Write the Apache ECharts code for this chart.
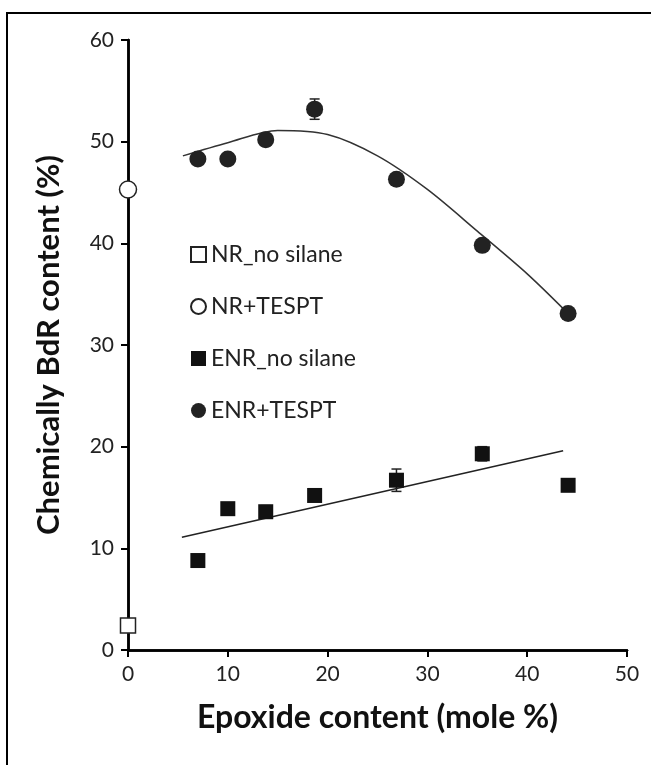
<!DOCTYPE html>
<html>
<head>
<meta charset="utf-8">
<script src="https://cdn.jsdelivr.net/npm/echarts@6/dist/echarts.min.js"></script>
<style>
html, body { margin: 0; padding: 0; background: #fff; }
#chart { width: 651px; height: 765px; }
</style>
</head>
<body>
<div id="chart"></div>
<script>
// epoxide content (mole %) of the ENR samples
var epoxide = [7.0, 10.0, 13.8, 18.7, 26.9, 35.5, 44.1];
// ENR + TESPT, with error (+/-)
var enrTespt = [48.3, 48.3, 50.2, 53.2, 46.3, 39.8, 33.1];
var enrTesptErr = [0.3, 0.3, 0.6, 1.0, 0.4, 0.4, 0.3];
// ENR no silane
var enrNoSilane = [8.8, 13.9, 13.6, 15.2, 16.7, 19.3, 16.2];
var enrNoSilaneErr = [0.3, 0.3, 0.6, 0.3, 1.1, 0.7, 0.4];
// NR references at 0 mole %
var nrTespt = [[0, 45.3]];
var nrNoSilane = [[0, 2.4]];
// trend lines
var polyX = [5.5, 10, 15, 20, 25, 30, 35, 40, 44.1];
var polyY = [48.6, 49.9, 51.1, 50.7, 48.6, 45.3, 41.2, 37.0, 33.1];
var linX = [5.4, 43.6];
var linY = [11.1, 19.6];

var fontFam = 'Lato, "Open Sans", sans-serif';

function pairs(xs, ys) {
    return xs.map(function (x, i) { return [x, ys[i]]; });
}
function errData(xs, ys, es) {
    return xs.map(function (x, i) { return [x, ys[i] - es[i], ys[i] + es[i]]; });
}
function errRender(params, api) {
    var lo = api.coord([api.value(0), api.value(1)]);
    var hi = api.coord([api.value(0), api.value(2)]);
    var w = 5;
    var st = { stroke: '#222', lineWidth: 1.5 };
    return {
        type: 'group',
        children: [
            { type: 'line', shape: { x1: lo[0], y1: lo[1], x2: hi[0], y2: hi[1] }, style: st },
            { type: 'line', shape: { x1: lo[0] - w, y1: lo[1], x2: lo[0] + w, y2: lo[1] }, style: st },
            { type: 'line', shape: { x1: hi[0] - w, y1: hi[1], x2: hi[0] + w, y2: hi[1] }, style: st }
        ]
    };
}

var chart = echarts.init(document.getElementById('chart'));

var option = {
    backgroundColor: '#fff',
    animation: false,
    graphic: [{
        type: 'rect',
        shape: { x: 7, y: 13, width: 700, height: 800 },
        style: { fill: 'none', stroke: '#000', lineWidth: 2 },
        silent: true
    }],
    legend: {
        data: ['NR_no silane', 'NR+TESPT', 'ENR_no silane', 'ENR+TESPT'],
        orient: 'vertical',
        left: 185,
        top: 238,
        itemWidth: 15,
        itemHeight: 15,
        itemGap: 29,
        textStyle: { fontFamily: fontFam, fontSize: 23, color: '#222' },
        selectedMode: false
    },
    grid: { left: 128, right: 24, top: 40, bottom: 115 },
    xAxis: [{
        type: 'value',
        min: 0, max: 50, interval: 10,
        name: 'Epoxide content (mole %)',
        nameLocation: 'middle',
        nameGap: 52,
        nameTextStyle: { fontFamily: fontFam, fontSize: 32, fontWeight: 'bold', color: '#111' },
        axisLine: { lineStyle: { color: '#000', width: 2.5 } },
        axisTick: { show: true, inside: false, length: 7, lineStyle: { color: '#000', width: 2 } },
        axisLabel: { fontFamily: fontFam, fontSize: 21, color: '#222', margin: 14 },
        splitLine: { show: false }
    }, {
        type: 'value',
        position: 'top',
        min: 0, max: 50, interval: 10,
        axisLine: { show: true, lineStyle: { color: '#000', width: 2.5 } },
        axisTick: { show: false },
        axisLabel: { show: false },
        splitLine: { show: false }
    }],
    yAxis: [{
        type: 'value',
        min: 0, max: 60, interval: 10,
        name: 'Chemically BdR content (%)',
        nameLocation: 'middle',
        nameGap: 64,
        nameTextStyle: { fontFamily: fontFam, fontSize: 31, fontWeight: 'bold', color: '#111' },
        axisLine: { show: true, lineStyle: { color: '#000', width: 2.5 } },
        axisTick: { show: true, inside: false, length: 7, lineStyle: { color: '#000', width: 2 } },
        axisLabel: { fontFamily: fontFam, fontSize: 21, color: '#222', margin: 14 },
        splitLine: { show: false }
    }, {
        type: 'value',
        position: 'right',
        min: 0, max: 60, interval: 10,
        axisLine: { show: true, lineStyle: { color: '#000', width: 2.5 } },
        axisTick: { show: false },
        axisLabel: { show: false },
        splitLine: { show: false }
    }],
    series: [
        {
            name: 'poly fit',
            type: 'line',
            data: pairs(polyX, polyY),
            smooth: 0.3,
            showSymbol: false,
            lineStyle: { color: '#333', width: 1.5 },
            z: 2
        },
        {
            name: 'linear fit',
            type: 'line',
            data: pairs(linX, linY),
            showSymbol: false,
            lineStyle: { color: '#222', width: 1.5 },
            z: 2
        },
        {
            name: 'NR_no silane',
            type: 'scatter',
            data: nrNoSilane,
            symbol: 'rect',
            symbolSize: 15,
            itemStyle: { color: '#fff', borderColor: '#222', borderWidth: 1.5, opacity: 1 },
            z: 5
        },
        {
            name: 'NR+TESPT',
            type: 'scatter',
            data: nrTespt,
            symbol: 'circle',
            symbolSize: 17,
            itemStyle: { color: '#fff', borderColor: '#222', borderWidth: 1.5, opacity: 1 },
            z: 5
        },
        {
            name: 'ENR_no silane',
            type: 'scatter',
            data: pairs(epoxide, enrNoSilane),
            symbol: 'rect',
            symbolSize: 15,
            itemStyle: { color: '#111', opacity: 1 },
            z: 4
        },
        {
            name: 'ENR+TESPT',
            type: 'scatter',
            data: pairs(epoxide, enrTespt),
            symbol: 'circle',
            symbolSize: 17,
            itemStyle: { color: '#222', opacity: 1 },
            z: 4
        },
        {
            name: 'err1',
            type: 'custom',
            renderItem: errRender,
            data: errData(epoxide, enrTespt, enrTesptErr),
            encode: { x: 0, y: [1, 2] },
            z: 3
        },
        {
            name: 'err2',
            type: 'custom',
            renderItem: errRender,
            data: errData(epoxide, enrNoSilane, enrNoSilaneErr),
            encode: { x: 0, y: [1, 2] },
            z: 3
        }
    ]
};
chart.setOption(option);
</script>
</body>
</html>
